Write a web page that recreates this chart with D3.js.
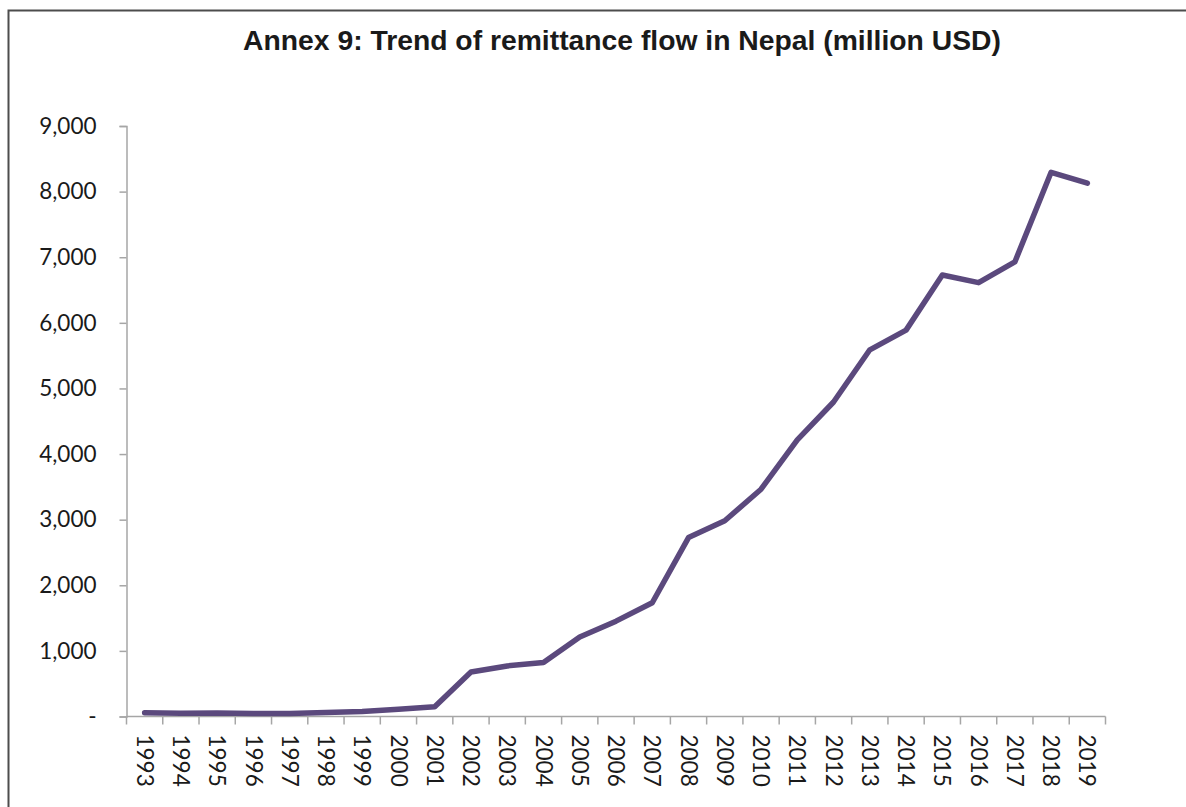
<!DOCTYPE html>
<html>
<head>
<meta charset="utf-8">
<script src="https://cdn.jsdelivr.net/npm/d3@7"></script>
<style>
  html, body { margin: 0; padding: 0; background: #fff; }
  svg { display: block; }
</style>
</head>
<body>
<svg id="chart" width="1186" height="807"></svg>
<script>
// Remittance inflows to Nepal, million USD
const years = ["1993","1994","1995","1996","1997","1998","1999","2000","2001","2002","2003","2004","2005","2006","2007","2008","2009","2010","2011","2012","2013","2014","2015","2016","2017","2018","2019"];
const remittance = [57, 50, 55, 44, 46, 60, 78, 111, 147, 678, 771, 823, 1212, 1453, 1734, 2727, 2983, 3464, 4217, 4793, 5589, 5889, 6730, 6612, 6928, 8294, 8128];
const yTicks = [0, 1000, 2000, 3000, 4000, 5000, 6000, 7000, 8000, 9000];
const titleText = "Annex 9: Trend of remittance flow in Nepal (million USD)";

const svg = d3.select("#chart");
const W = 1186, H = 807;

// outer frame
svg.append("rect")
  .attr("x", 8.5).attr("y", 10.5)
  .attr("width", W + 20).attr("height", H + 20)
  .attr("fill", "none").attr("stroke", "#4d4d4d").attr("stroke-width", 2);

svg.append("text")
  .attr("x", 622).attr("y", 50)
  .attr("text-anchor", "middle")
  .attr("font-family", "'Liberation Sans', Arial, sans-serif")
  .attr("font-weight", "bold")
  .attr("font-size", 28.3)
  .attr("fill", "#1a1a1a")
  .text(titleText);

const x = d3.scaleBand().domain(years).range([126.5, 1105.5]);
const y = d3.scaleLinear().domain([0, 9000]).range([716.5, 126]);

const axisColor = "#a6a6a6";
const labelFont = "Lato, 'Open Sans', sans-serif";

// y axis
const yAxis = svg.append("g")
  .attr("transform", `translate(${x.range()[0]},0)`)
  .call(d3.axisLeft(y).tickValues(yTicks).tickSize(7).tickPadding(23)
    .tickFormat(d => d === 0 ? "-" : d3.format(",")(d)));
yAxis.select(".domain").attr("stroke", axisColor).attr("stroke-width", 1.5);
yAxis.selectAll(".tick line").attr("stroke", axisColor).attr("stroke-width", 1.5);
yAxis.selectAll(".tick text")
  .attr("font-family", labelFont).attr("font-size", 22.5).attr("fill", "#1a1a1a");

// x axis: ticks on category boundaries, labels centred and rotated
const xAxisG = svg.append("g").attr("transform", `translate(0,${y(0)})`);
xAxisG.append("line")
  .attr("x1", x.range()[0]).attr("x2", x.range()[1])
  .attr("stroke", axisColor).attr("stroke-width", 1.5);
const bounds = years.map(d => x(d)).concat([x.range()[1]]);
xAxisG.selectAll("line.tk").data(bounds).join("line")
  .attr("class", "tk")
  .attr("x1", d => d).attr("x2", d => d)
  .attr("y1", 0).attr("y2", 8)
  .attr("stroke", axisColor).attr("stroke-width", 1.5);
xAxisG.selectAll("text").data(years).join("text")
  .attr("transform", d => `translate(${x(d) + x.bandwidth() / 2},18) rotate(90)`)
  .attr("dy", "0.35em")
  .attr("text-anchor", "start")
  .attr("font-family", labelFont).attr("font-size", 22.5).attr("fill", "#1a1a1a")
  .text(d => d);

// remittance trend line
const line = d3.line()
  .x((d, i) => x(years[i]) + x.bandwidth() / 2)
  .y(d => y(d));
svg.append("path")
  .datum(remittance)
  .attr("d", line)
  .attr("fill", "none")
  .attr("stroke", "#5b497d")
  .attr("stroke-width", 5.5)
  .attr("stroke-linejoin", "round")
  .attr("stroke-linecap", "round");
</script>
</body>
</html>
